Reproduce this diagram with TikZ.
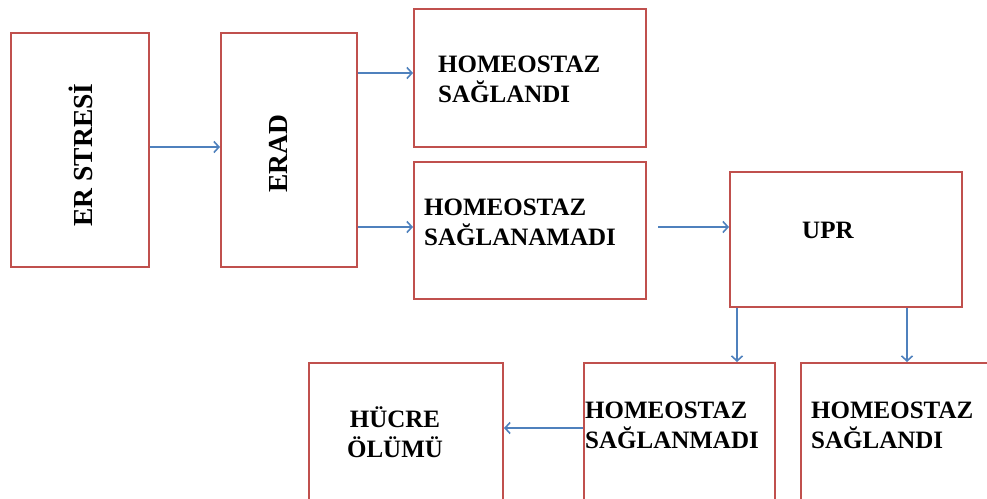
\documentclass[tikz,border=0pt]{standalone}
\usepackage{fontspec}
\setmainfont{Liberation Serif}
\usetikzlibrary{arrows.meta}
\definecolor{boxred}{HTML}{C0504D}
\definecolor{arrblue}{HTML}{4F81BD}
\newcommand\twolines[2]{\vtop{\hbox{#1}\hbox{#2}}}
\newcommand\twocentered[2]{\vtop{\halign{\hfil##\hfil\cr #1\cr #2\cr}}}
\begin{document}
\begin{tikzpicture}[x=1pt,y=-1pt,
  box/.style={draw=boxred, line width=2pt, inner sep=0pt, fill=none},
  txt/.style={inner sep=0pt, font=\bfseries\fontsize{25}{30}\selectfont},
  vtxt/.style={inner sep=0pt, rotate=90, anchor=base, font=\bfseries\fontsize{27.5}{32}\selectfont},
  arr/.style={draw=arrblue, line width=1.6pt, -{Straight Barb[length=5pt,width=11pt,line width=1.6pt]}}]
\useasboundingbox (0,0) rectangle (987,498);
\clip (0,0) rectangle (987,498);
% boxes
\node[box, minimum width=138pt, minimum height=234pt] (A) at (80,150) {};
\node[box, minimum width=136pt, minimum height=234pt] (B) at (289,150) {};
\node[box, minimum width=232pt, minimum height=138pt] (C) at (530,78) {};
\node[box, minimum width=232pt, minimum height=137pt] (D) at (530,230.5) {};
\node[box, minimum width=232pt, minimum height=135pt] (E) at (846,239.5) {};
\node[box, minimum width=194pt, minimum height=167pt] (F) at (406,446.5) {};
\node[box, minimum width=191pt, minimum height=167pt] (G) at (679.5,446.5) {};
\node[box, minimum width=219pt, minimum height=167pt] (H) at (910.5,446.5) {};
% texts
\node[vtxt] (at) at (92,155) {ER STRESİ};
\node[vtxt] (bt) at (287,154) {ERAD};
\node[txt, anchor=base west] (ct) at (438,72) {\twolines{HOMEOSTAZ}{SAĞLANDI}};
\node[txt, anchor=base west] (dt) at (424,215) {\twolines{HOMEOSTAZ}{SAĞLANAMADI}};
\node[txt, anchor=base west] (et) at (802,238) {UPR};
\node[txt, anchor=base] (ft) at (395,427) {\twocentered{HÜCRE}{ÖLÜMÜ}};
\node[txt, anchor=base west] (gt) at (585,418) {\twolines{HOMEOSTAZ}{SAĞLANMADI}};
\node[txt, anchor=base west] (ht) at (811,418) {\twolines{HOMEOSTAZ}{SAĞLANDI}};
% arrows
\draw[arr] (A.east |- 0,147) -- (B.west |- 0,147);
\draw[arr] (B.east |- 0,73) -- (C.west |- 0,73);
\draw[arr] (B.east |- 0,227) -- (D.west |- 0,227);
\draw[arr] ([xshift=11pt]D.east |- 0,227) -- (E.west |- 0,227);
\draw[arr] (E.south -| 737,0) -- (G.north -| 737,0);
\draw[arr] (E.south -| 907,0) -- (H.north -| 907,0);
\draw[arr] (G.west |- 0,428) -- (F.east |- 0,428);
\end{tikzpicture}
\end{document}
